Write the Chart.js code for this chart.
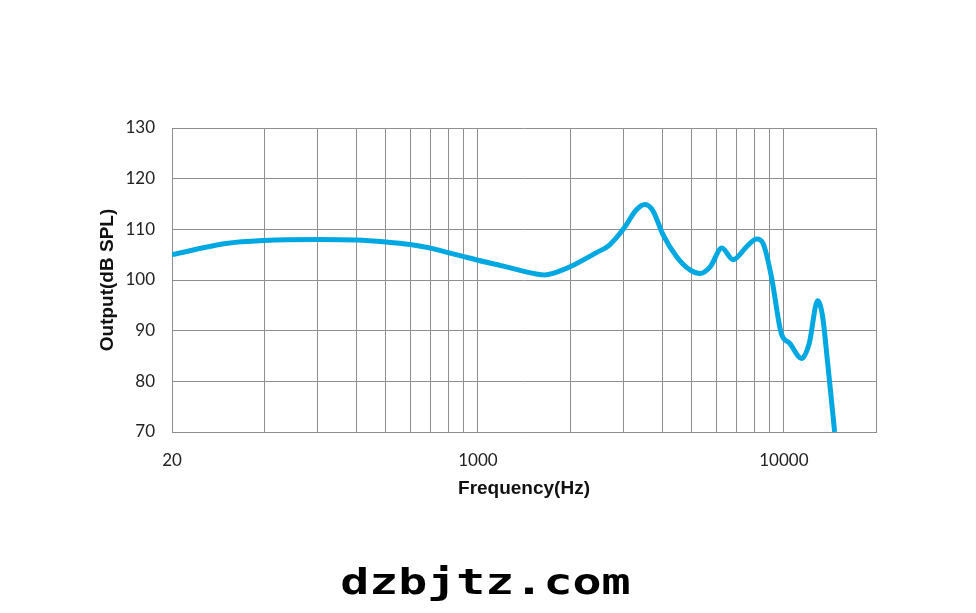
<!DOCTYPE html>
<html>
<head>
<meta charset="utf-8">
<script src="https://cdn.jsdelivr.net/npm/chart.js@4/dist/chart.umd.min.js"></script>
<style>
  html, body { margin: 0; padding: 0; background: #fff; }
  #wrap { position: relative; width: 976px; height: 613px; }
  #mark {
    position: absolute; left: 0; width: 971px; top: 561px;
    text-align: center; line-height: 36px;
    font: bold 36px "DejaVu Sans Mono", monospace; color: #000;
  }
  #mark span { display: inline-block; transform: scaleX(1.34); transform-origin: center; }
</style>
</head>
<body>
<div id="wrap">
  <canvas id="fr" width="976" height="613"></canvas>
  <div id="mark"><span>dzbjtz.com</span></div>
</div>
<script>
// frequency response
const freqHz = [100, 150, 200, 300, 400, 500, 600, 700, 800, 900, 1000, 1200, 1550, 1650, 1760, 2000,
  2440, 2690, 3000, 3290, 3510, 3720, 4030, 4460, 4930, 5320, 5740, 6270, 6820, 7560, 8140, 8550,
  9100, 9800, 10450, 11430, 12100, 12890, 13380, 13900, 14650];
const outputDb = [105.0, 107.2, 107.8, 108.0, 107.9, 107.5, 107.0, 106.3, 105.4, 104.6, 103.9, 102.8, 101.2, 101.0, 101.3, 102.6,
  105.4, 106.9, 110.2, 113.8, 114.9, 113.8, 108.9, 104.6, 102.0, 101.3, 102.6, 106.3, 104.0, 106.6, 108.1, 107.2,
  100.7, 89.5, 87.5, 84.5, 87.5, 95.9, 92.8, 83.6, 70.0];

const xTickValues = [100, 1000, 10000];
const xTickText = ['20', '1000', '10000'];

const gridColor = '#8e8e8e';
const tickFont = { family: 'Lato', size: 17 };
const titleFont = { family: 'Liberation Sans', size: 19, weight: 'bold' };

const points = freqHz.map((f, i) => ({ x: f, y: outputDb[i] }));

new Chart(document.getElementById('fr').getContext('2d'), {
  type: 'line',
  data: {
    datasets: [{
      data: points,
      borderColor: '#00a8e1',
      borderWidth: 5,
      pointRadius: 0,
      cubicInterpolationMode: 'monotone',
      fill: false
    }]
  },
  options: {
    responsive: false,
    animation: false,
    layout: { padding: { left: 92, top: 128, right: 100, bottom: 109 } },
    plugins: { legend: { display: false }, tooltip: { enabled: false } },
    scales: {
      x: {
        type: 'logarithmic',
        min: 100,
        max: 20000,
        grid: { color: gridColor, lineWidth: 1, drawTicks: false },
        border: { color: gridColor },
        ticks: {
          autoSkip: false,
          maxRotation: 0,
          padding: 18,
          color: '#222',
          font: tickFont,
          callback: (v) => {
            const k = xTickValues.indexOf(v);
            return k >= 0 ? xTickText[k] : '';
          }
        },
        // keep only 1..9 x 10^n gridlines (drop the 15000 one)
        afterBuildTicks: (s) => {
          s.ticks = s.ticks.filter(t => {
            const m = t.value / Math.pow(10, Math.floor(Math.log10(t.value)));
            return Math.abs(m - Math.round(m)) < 1e-6;
          });
        },
        title: { display: true, text: 'Frequency(Hz)', color: '#111', font: titleFont, padding: { top: 4, bottom: 4 } },
        afterFit: (s) => { s.height = 72; }
      },
      y: {
        min: 70,
        max: 130,
        grid: { color: gridColor, lineWidth: 1, drawTicks: false },
        border: { color: gridColor },
        ticks: { stepSize: 10, padding: 17, color: '#222', font: tickFont },
        title: { display: true, text: 'Output(dB SPL)', color: '#111', font: titleFont, padding: { top: 4, bottom: 4 } },
        afterFit: (s) => { s.width = 80; }
      }
    }
  }
});
</script>
</body>
</html>
